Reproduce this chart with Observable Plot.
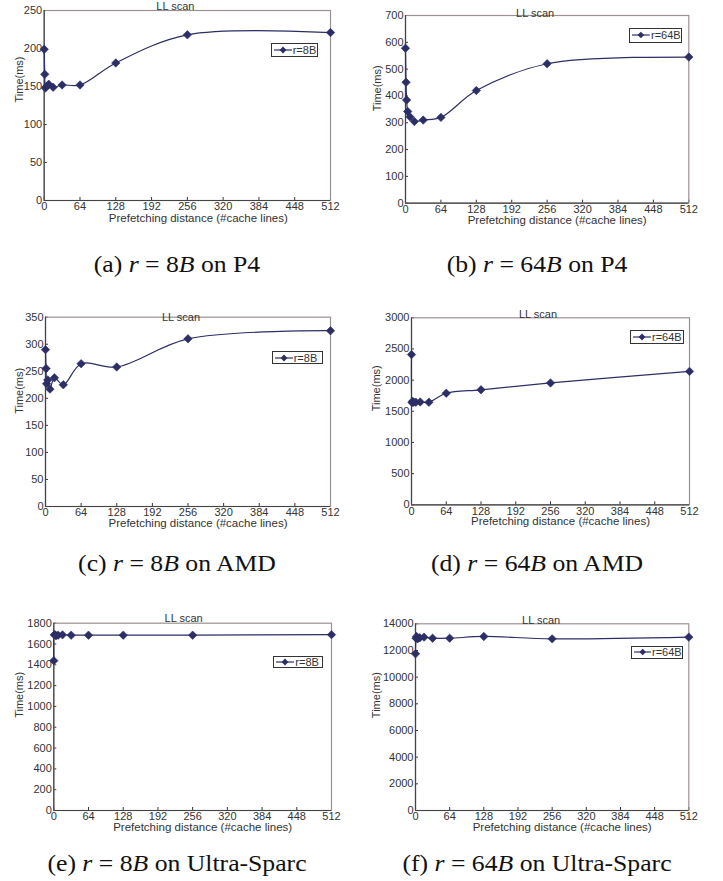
<!DOCTYPE html>
<html><head><meta charset="utf-8">
<script src="https://cdn.jsdelivr.net/npm/d3@7"></script>
<script src="https://cdn.jsdelivr.net/npm/@observablehq/plot@0.6"></script>
<style>
body{margin:0;background:#fff;}
#root{position:relative;width:723px;height:881px;overflow:hidden;font-family:"Liberation Sans",Arial,sans-serif;}
.panel{position:absolute;}
.legend{position:absolute;border:1px solid #333;box-sizing:border-box;background:#fff;font:11px "Liberation Sans",Arial,sans-serif;color:#333;display:flex;align-items:center;white-space:nowrap;}
.legend svg{margin-left:2px;margin-right:1px;}
.caption{position:absolute;font-family:"Liberation Serif","Times New Roman",serif;font-size:24px;color:#111;transform:translateX(-50%) scaleX(1.07);white-space:nowrap;line-height:1;}
</style></head><body><div id="root"></div>
<script>
// ---- data ----
const distances = [0, 1, 2, 4, 8, 16, 32, 64, 128, 256, 512];
const xTicks = [0, 64, 128, 192, 256, 320, 384, 448, 512];
const p4_8B   = [199, 166, 148, 150, 153, 149, 152, 152, 181, 218, 221];
const p4_64B  = [578, 451, 385, 342, 322, 305, 310, 320, 420, 520, 545];
const amd_8B  = [290, 255, 227, 234, 217, 238, 225, 264, 258, 310, 325];
const amd_64B = [2410, 1640, 1660, 1645, 1645, 1650, 1645, 1790, 1845, 1955, 2140];
const us_8B   = [1440, 1688, 1690, 1680, 1685, 1688, 1685, 1685, 1685, 1685, 1690];
const us_64B  = [11750, 12920, 13050, 12870, 12950, 13000, 12920, 12920, 13050, 12870, 13000];
const yTicksP4_8B   = [0, 50, 100, 150, 200, 250];
const yTicksP4_64B  = [0, 100, 200, 300, 400, 500, 600, 700];
const yTicksAMD_8B  = [0, 50, 100, 150, 200, 250, 300, 350];
const yTicksAMD_64B = [0, 500, 1000, 1500, 2000, 2500, 3000];
const yTicksUS_8B   = [0, 200, 400, 600, 800, 1000, 1200, 1400, 1600, 1800];
const yTicksUS_64B  = [0, 2000, 4000, 6000, 8000, 10000, 12000, 14000];
const seriesLabels = ["r=8B", "r=64B"];
const chartTitle = "LL scan";
const xTitle = "Prefetching distance (#cache lines)";
const yTitle = "Time(ms)";
const captions = [
  ["(a)", "8", "P4"], ["(b)", "64", "P4"],
  ["(c)", "8", "AMD"], ["(d)", "64", "AMD"],
  ["(e)", "8", "Ultra-Sparc"], ["(f)", "64", "Ultra-Sparc"]
];

// ---- layout ----
const navy = "#2c2e66";
const panels = [
  {vals: p4_8B,  ticks: yTicksP4_8B,  lab: 0, left: 0,   top: 0,   w: 360, h: 232, ml: 43.7, mr: 30,   mt: 10,   mb: 32,   tdx: -12, tdy: -8,   ydx: -24.7, ydy: -3, xdx: 11, xdy: 21.5,
   lg: [270.7, 43.3, 47.6, 13.4], cap: [176.5, 252]},
  {vals: p4_64B, ticks: yTicksP4_64B, lab: 1, left: 360, top: 0,   w: 363, h: 232, ml: 45,   mr: 34.7, mt: 15,   mb: 29.3, tdx: -12, tdy: -6,   ydx: -28.3, ydy: 2,  xdx: 10, xdy: 21,
   lg: [629.3, 28.3, 52.4, 14.4], cap: [537, 252]},
  {vals: amd_8B, ticks: yTicksAMD_8B, lab: 0, left: 0,   top: 300, w: 360, h: 232, ml: 45,   mr: 30,   mt: 16.7, mb: 26,   tdx: -7,  tdy: -4,   ydx: -26,   ydy: 2,  xdx: 10, xdy: 20.5,
   lg: [271.7, 351, 51, 13.3], cap: [177, 551]},
  {vals: amd_64B,ticks: yTicksAMD_64B,lab: 1, left: 360, top: 300, w: 363, h: 232, ml: 51,   mr: 34,   mt: 17.3, mb: 27.7, tdx: -12.5,tdy: -7.3,ydx: -35.3, ydy: 0,  xdx: 10, xdy: 20.5,
   lg: [630, 330, 54, 14.3], cap: [537, 551]},
  {vals: us_8B,  ticks: yTicksUS_8B,  lab: 0, left: 0,   top: 600, w: 360, h: 232, ml: 53.3, mr: 29,   mt: 22.7, mb: 22,   tdx: -9,  tdy: -9.4, ydx: -34.3, ydy: 1,  xdx: 10, xdy: 20.5,
   lg: [273.3, 656, 49.4, 12.3], cap: [177, 851]},
  {vals: us_64B, ticks: yTicksUS_64B, lab: 1, left: 360, top: 600, w: 363, h: 232, ml: 55,   mr: 34.7, mt: 23.3, mb: 22,   tdx: -11, tdy: -7.3, ydx: -39,   ydy: 1,  xdx: 10, xdy: 20.5,
   lg: [630.7, 645.7, 52, 13.3], cap: [537, 851]}
];

const root = document.getElementById("root");

panels.forEach((p, k) => {
  const data = distances.map((d, i) => ({d, t: p.vals[i]}));
  const yMax = p.ticks[p.ticks.length - 1];
  const chart = Plot.plot({
    width: p.w, height: p.h,
    marginLeft: p.ml, marginRight: p.mr, marginTop: p.mt, marginBottom: p.mb,
    style: {fontFamily: '"Liberation Sans", Arial, sans-serif', fontSize: "11px", color: "#333", background: "transparent", overflow: "visible"},
    x: {domain: [0, 512], ticks: xTicks, tickSize: -3, tickPadding: 5, label: null, tickFormat: d => String(d)},
    y: {domain: [0, yMax], ticks: p.ticks, tickSize: -3, tickPadding: 5, label: null, tickFormat: d => String(d)},
    marks: [
      Plot.frame({stroke: "#9d9090", strokeWidth: 1.2}),
      Plot.ruleX([0], {stroke: "#444", strokeWidth: 1.2}),
      Plot.ruleY([0], {stroke: "#444", strokeWidth: 1.2}),
      Plot.line(data, {x: "d", y: "t", curve: "catmull-rom", stroke: navy, strokeWidth: 1.2}),
      Plot.dot(data, {x: "d", y: "t", symbol: "diamond2", r: 3.8, fill: navy, stroke: navy, strokeWidth: 0.6}),
      Plot.text([chartTitle], {frameAnchor: "top", dx: p.tdx, dy: p.tdy, fill: "#333", fontSize: 11}),
      Plot.text([xTitle], {frameAnchor: "bottom", dx: p.xdx, dy: p.xdy, fill: "#333", fontSize: 11.5}),
      Plot.text([yTitle], {frameAnchor: "left", rotate: -90, dx: p.ydx, dy: p.ydy, fill: "#333", fontSize: 11})
    ]
  });
  const wrap = document.createElement("div");
  wrap.className = "panel";
  wrap.style.left = p.left + "px";
  wrap.style.top = p.top + "px";
  wrap.appendChild(chart);
  root.appendChild(wrap);

  // legend
  const [lx, ly, lw, lh] = p.lg;
  const lg = document.createElement("div");
  lg.className = "legend";
  lg.style.left = lx + "px"; lg.style.top = ly + "px";
  lg.style.width = lw + "px"; lg.style.height = lh + "px";
  lg.innerHTML = `<svg width="18" height="8" viewBox="0 0 18 8"><line x1="0" y1="4" x2="18" y2="4" stroke="${navy}" stroke-width="1.2"/><path d="M9,0.6 L12.4,4 L9,7.4 L5.6,4 Z" fill="${navy}"/></svg><span>${seriesLabels[p.lab]}</span>`;
  root.appendChild(lg);

  // caption
  const c = captions[k];
  const cap = document.createElement("div");
  cap.className = "caption";
  cap.style.left = p.cap[0] + "px"; cap.style.top = p.cap[1] + "px";
  cap.innerHTML = `${c[0]} <i>r</i> = ${c[1]}<i>B</i> on ${c[2]}`;
  root.appendChild(cap);
});
</script></body></html>
